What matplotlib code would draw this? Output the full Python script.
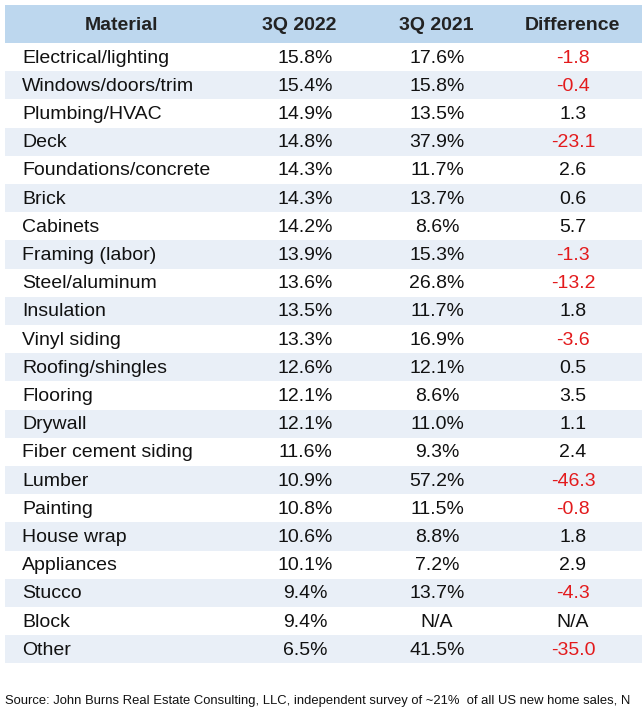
import matplotlib
matplotlib.use("Agg")
import matplotlib.pyplot as plt
from matplotlib.patches import Rectangle

headers = ["Material", "3Q 2022", "3Q 2021", "Difference"]
materials = ["Electrical/lighting","Windows/doors/trim","Plumbing/HVAC","Deck","Foundations/concrete",
             "Brick","Cabinets","Framing (labor)","Steel/aluminum","Insulation","Vinyl siding",
             "Roofing/shingles","Flooring","Drywall","Fiber cement siding","Lumber","Painting",
             "House wrap","Appliances","Stucco","Block","Other"]
q2022 = ["15.8%","15.4%","14.9%","14.8%","14.3%","14.3%","14.2%","13.9%","13.6%","13.5%","13.3%",
         "12.6%","12.1%","12.1%","11.6%","10.9%","10.8%","10.6%","10.1%","9.4%","9.4%","6.5%"]
q2021 = ["17.6%","15.8%","13.5%","37.9%","11.7%","13.7%","8.6%","15.3%","26.8%","11.7%","16.9%",
         "12.1%","8.6%","11.0%","9.3%","57.2%","11.5%","8.8%","7.2%","13.7%","N/A","41.5%"]
diff = ["-1.8","-0.4","1.3","-23.1","2.6","0.6","5.7","-1.3","-13.2","1.8","-3.6",
        "0.5","3.5","1.1","2.4","-46.3","-0.8","1.8","2.9","-4.3","N/A","-35.0"]
source = "Source: John Burns Real Estate Consulting, LLC, independent survey of ~21%  of all US new home sales, N"

W, H = 642, 722
fig = plt.figure(figsize=(W/100, H/100), dpi=100)
ax = fig.add_axes([0, 0, 1, 1])
ax.set_xlim(0, W); ax.set_ylim(H, 0); ax.axis("off")
plt.rcParams['font.family'] = ['Liberation Sans', 'DejaVu Sans']

top, hh, rh = 5, 38, 28.2
left, right = 5, 642
ax.add_patch(Rectangle((left, top), right-left, hh, color="#bdd7ee", lw=0))
hx = [122, 299, 436, 572]
xs = [22, 305, 437, 573]
for x, h in zip(hx, headers):
    ax.text(x, top+hh/2+1, h, ha="center", va="center", fontsize=14, fontweight="bold", color="#222222")
for i in range(len(materials)):
    y0 = top + hh + i*rh
    if i % 2 == 1:
        ax.add_patch(Rectangle((left, y0), right-left, rh, color="#e9eff7", lw=0))
    yc = y0 + rh/2 + 1
    ax.text(xs[0], yc, materials[i], ha="left", va="center", fontsize=14, color="#111111")
    ax.text(xs[1], yc, q2022[i], ha="center", va="center", fontsize=14, color="#111111")
    ax.text(xs[2], yc, q2021[i], ha="center", va="center", fontsize=14, color="#111111")
    red = diff[i].startswith("-")
    ax.text(xs[3], yc, diff[i], ha="center", va="center", fontsize=14,
            color="#e31a1c" if red else "#111111")
ax.text(5, 701, source, ha="left", va="center", fontsize=9.4, color="#111111")
fig.savefig("out.png", dpi=100)
